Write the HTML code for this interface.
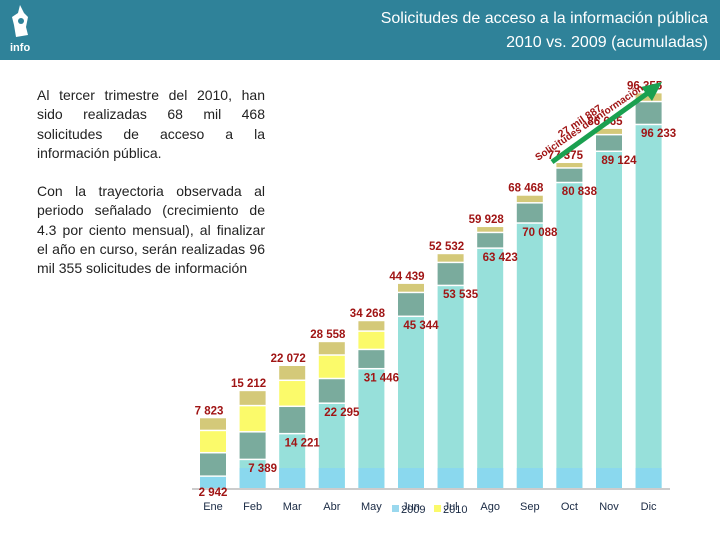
<!DOCTYPE html>
<html><head><meta charset="utf-8"><style>
body{margin:0;width:720px;height:540px;background:#fff;position:relative;overflow:hidden;font-family:"Liberation Sans",sans-serif}
#hdr{position:absolute;left:0;top:0;width:720px;height:60px;background:#2f8299}
#title{position:absolute;right:12px;top:7px;color:#fff;font-size:16px;text-align:right;line-height:24px}
#logo{position:absolute;left:10px;top:5px;color:#fff;font-size:11px;font-weight:bold}
.txt{position:absolute;left:37px;width:228px;font-size:14px;line-height:19.3px;color:#222;text-align:justify}
</style></head><body>
<div id="hdr">
<div id="logo"><svg width="22" height="34" viewBox="0 0 22 34"><path d="M10 0 L14 8 L18 12 L16 22 L18 30 L6 32 L4 20 L2 12 L8 8Z" fill="#fff"/><circle cx="11" cy="16" r="3" fill="#2f8299"/></svg><br>info</div>
<div id="title">Solicitudes de acceso a la información pública<br>2010 vs. 2009 (acumuladas)</div>
</div>
<div class="txt" style="top:86px">Al tercer trimestre del 2010, han sido realizadas 68 mil 468 solicitudes de acceso a la información pública.</div>
<div class="txt" style="top:182px">Con la trayectoria observada al periodo señalado (crecimiento de 4.3 por ciento mensual), al finalizar el año en curso, serán realizadas 96 mil 355 solicitudes de información</div>
<svg id="chart" width="720" height="540" style="position:absolute;left:0;top:0"></svg>
<script>
const months=["Ene","Feb","Mar","Abr","May","Jun","Jul","Ago","Sep","Oct","Nov","Dic"];
const v2009=[2942,7389,14221,22295,31446,45344,53535,63423,70088,80838,89124,96233];
const v2010=[7823,15212,22072,28558,34268,44439,52532,59928,68468,77375,86665,96355];
const labels2010=["7 823","15 212","22 072","28 558","34 268","44 439","52 532","59 928","68 468","77 375","86 665","96 355"];
const labels2009=["2 942","7 389","14 221","22 295","31 446","45 344","53 535","63 423","70 088","80 838","89 124","96 233"];
const NS="http://www.w3.org/2000/svg",svg=document.getElementById('chart');
const base=488;
function xC(i){return 213+i*39.6;}
function yTop(v){return base-(41+v*0.00367);}
function y09(v){return base-v*0.00377;}
function mk(t,a,p){const e=document.createElementNS(NS,t);for(const k in a)e.setAttribute(k,a[k]);(p||svg).appendChild(e);return e;}
const g=mk('g',{});


mk('line',{x1:192,x2:670,y1:base+1,y2:base+1,stroke:'#999'});
for(let i=0;i<12;i++){
 const x=xC(i)-13,w=26,top=yTop(v2010[i]),cy=Math.max(y09(v2009[i]),top+18);
 const c=mk('rect',{x:x,y:cy,width:w,height:base-cy,fill:'#97e0da'},g);
 
 
 mk('rect',{x:x,y:Math.max(cy,base-20),width:w,height:Math.min(20,base-cy),fill:'#8ad8ee'},g);
 const rest=cy-top;
 const segs=i<5?[['#d4c979',0.22],['#fbfa6a',0.38],['#7aab9d',0.4]]:[['#d4c979',0.28],['#7aab9d',0.72]];
 let y=top;
 for(const [col,f] of segs){const h=rest*f;const r=mk('rect',{x:x,y:y,width:w,height:Math.max(h-1.5,0),fill:col},g);
  
  
  y+=h;}
 const t=mk('text',{x:xC(i)-4,y:top-4,'text-anchor':'middle','font-size':11.5,fill:'#a01515','font-weight':'bold'});
 t.textContent=labels2010[i];
 
 
 const t2=mk('text',{x:i==0?xC(i):xC(i)+10,y:i==0?base+8:cy+12,'text-anchor':'middle','font-size':11.5,fill:'#a01515','font-weight':'bold'});
 t2.textContent=labels2009[i];
 
 
 const m=mk('text',{x:xC(i),y:510,'text-anchor':'middle','font-size':11,fill:'#1a2a44'});
 m.textContent=months[i];
 
 
}
const l1=mk('rect',{x:392,y:505,width:7,height:7,fill:'#9ad8ee'});

const lt1=mk('text',{x:401,y:513,'font-size':11,fill:'#1a2a44'});lt1.textContent='2009';

const l2=mk('rect',{x:434,y:505,width:7,height:7,fill:'#fbfa6a'});

const lt2=mk('text',{x:443,y:513,'font-size':11,fill:'#1a2a44'});lt2.textContent='2010';

const ar=mk('line',{x1:552,y1:162,x2:652,y2:90,stroke:'#1aa050','stroke-width':5});

mk('polygon',{points:'662,82 641,87 652,101',fill:'#1aa050'});
const an=mk('text',{x:538,y:161,'font-size':10,fill:'#a01515','font-weight':'bold',transform:'rotate(-34 538 161)'});
an.textContent='Solicitudes de información';

const an2=mk('text',{x:561,y:138,'font-size':10.5,fill:'#a01515','font-weight':'bold',transform:'rotate(-34 561 138)'});
an2.textContent='27 mil 887';

</script>
</body></html>
